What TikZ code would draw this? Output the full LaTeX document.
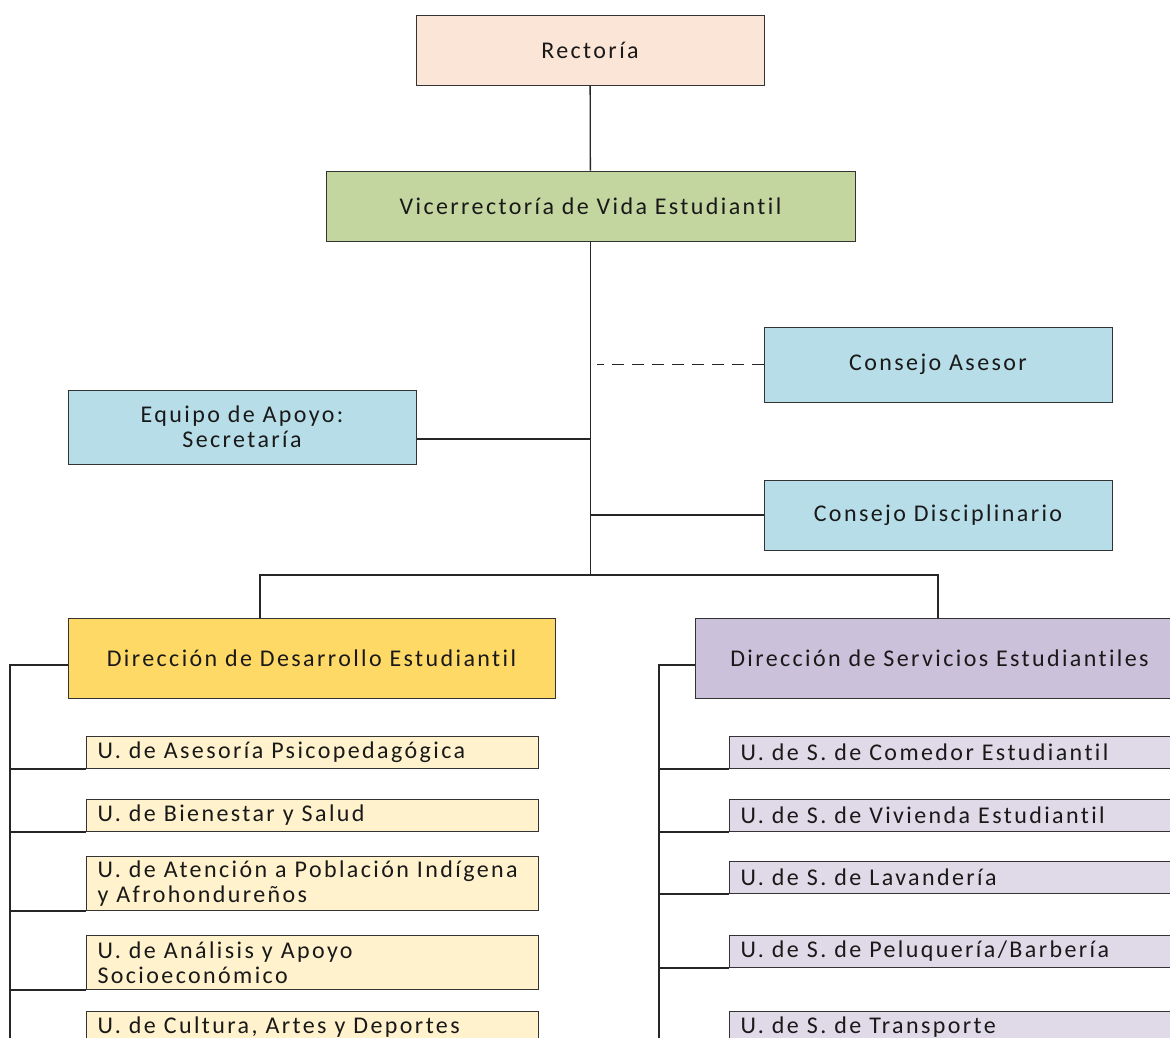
\documentclass[tikz,border=0pt]{standalone}
\usepackage{fontspec}
\setmainfont{Carlito}[LetterSpace=10, Ligatures=NoCommon]
\usetikzlibrary{positioning}
\definecolor{rectfill}{HTML}{FBE5D6}
\definecolor{vicefill}{HTML}{C4D69F}
\definecolor{consfill}{HTML}{B7DEE8}
\definecolor{desfill}{HTML}{FFD966}
\definecolor{servfill}{HTML}{CCC1DA}
\definecolor{unitfill}{HTML}{FFF2CC}
\definecolor{servunit}{HTML}{E0DAE8}
\tikzset{
  box/.style={draw=black!80, line width=1pt, inner sep=0pt, align=center,
    text=black!90, font=\fontsize{24}{25}\selectfont},
  unit/.style={draw=black!80, line width=1pt, anchor=north west, inner xsep=11pt, inner ysep=0pt,
    align=left, text=black!90, font=\fontsize{24}{25}\selectfont, minimum height=32pt},
  link/.style={line width=1.3pt, black!85}
}
\begin{document}
\begin{tikzpicture}[x=1pt, y=-1pt]
\useasboundingbox (0,0) rectangle (1170,1037);
\clip (0,0) rectangle (1170,1037);

% top levels
\node[box, fill=rectfill, minimum width=348pt, minimum height=70pt] (rect) at (590,50) {Rectoría};
\node[box, fill=vicefill, minimum width=529pt, minimum height=70pt] (vice) at (590.5,206) {Vicerrectoría de Vida Estudiantil};
\node[box, fill=consfill, minimum width=348pt, minimum height=75pt] (asesor) at (938,364.5) {Consejo Asesor};
\node[box, fill=consfill, minimum width=348pt, minimum height=74pt] (apoyo) at (242,427) {Equipo de Apoyo:\\Secretaría};
\node[box, fill=consfill, minimum width=348pt, minimum height=70pt] (disc) at (938,515) {Consejo Disciplinario};

% direcciones
\node[box, fill=desfill, minimum width=487pt, minimum height=80pt] (dde) at (311.5,658) {Dirección de Desarrollo Estudiantil};
\node[box, fill=servfill, minimum width=489pt, minimum height=80pt] (dse) at (939.5,658) {Dirección de Servicios Estudiantiles};

% unidades
\node[unit, fill=unitfill, text width=430pt] (u1) at (86,736) {U. de Asesoría Psicopedagógica};
\node[unit, fill=unitfill, text width=430pt] (u2) at (86,799) {U. de Bienestar y Salud};
\node[unit, fill=unitfill, text width=430pt, minimum height=54pt] (u3) at (86,856) {U. de Atención a Población Indígena\\y Afrohondureños};
\node[unit, fill=unitfill, text width=430pt, minimum height=54pt] (u4) at (86,935) {U. de Análisis y Apoyo\\Socioeconómico};
\node[unit, fill=unitfill, text width=430pt] (u5) at (86,1011) {U. de Cultura, Artes y Deportes};

\node[unit, fill=servunit, text width=460pt] (s1) at (729,736) {U. de S. de Comedor Estudiantil};
\node[unit, fill=servunit, text width=460pt] (s2) at (729,799) {U. de S. de Vivienda Estudiantil};
\node[unit, fill=servunit, text width=460pt] (s3) at (729,861) {U. de S. de Lavandería};
\node[unit, fill=servunit, text width=460pt] (s4) at (729,935) {U. de S. de Peluquería/Barbería};
\node[unit, fill=servunit, text width=460pt] (s5) at (729,1011) {U. de S. de Transporte};

\coordinate (dashend) at (597,364.5);
\coordinate (barL) at (260,575);
\coordinate (barR) at (938,575);
\coordinate (lrail) at (10,1045);
\coordinate (rrail) at (659,1045);

% conexiones
\draw[link] (rect) -- (vice);
\draw[link] (vice.south) -- (vice.south |- barL);
\draw[link, dash pattern=on 12pt off 8pt] (asesor.west) -- (dashend);
\draw[link] ([yshift=-12pt]apoyo.east) -- ([yshift=-12pt]apoyo.east -| vice.south);
\draw[link] (disc.west) -- (disc.west -| vice.south);
\draw[link] (dde.north -| barL) -- (barL) -- (barR) -- (dse.north -| barR);
\draw[link] ([yshift=-7pt]dde.west) -| (lrail);
\draw[link] ([yshift=-7pt]dse.west) -| (rrail);
\foreach \u in {u1,u2,u3,u4}
  \draw[link] (\u.south west) -- (\u.south west -| lrail);
\foreach \s in {s1,s2,s3,s4}
  \draw[link] (\s.south west) -- (\s.south west -| rrail);

\end{tikzpicture}
\end{document}
